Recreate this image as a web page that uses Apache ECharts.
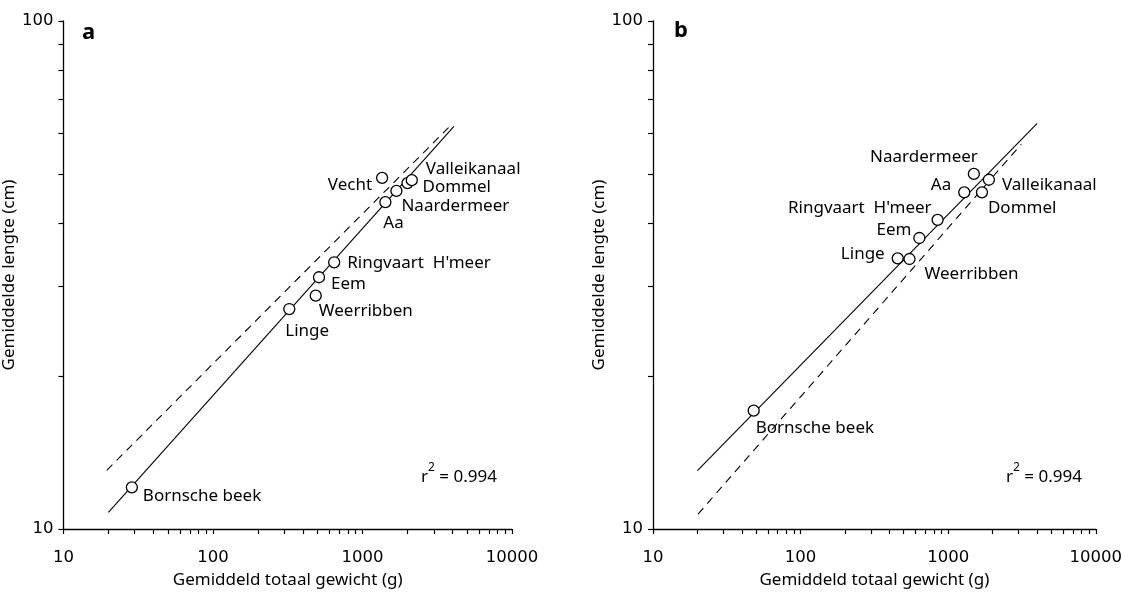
<!DOCTYPE html>
<html>
<head>
<meta charset="utf-8">
<script src="https://cdn.jsdelivr.net/npm/echarts@6/dist/echarts.min.js"></script>
<style>
html, body { margin: 0; padding: 0; background: #fff; }
#main { width: 1125px; height: 594px; }
</style>
</head>
<body>
<div id="main"></div>
<script>
// panel a
var namesA = ['Bornsche beek', 'Linge', 'Weerribben', 'Eem', "Ringvaart  H'meer", 'Aa', 'Naardermeer', 'Dommel', 'Vecht', 'Valleikanaal'];
var weightA = [28.7, 324, 487, 512, 647, 1423, 1687, 2000, 1353, 2138];
var lengthA = [12.08, 27.1, 28.8, 31.3, 33.5, 44.0, 46.3, 47.97, 49.1, 48.6];
var solidA = [[20, 10.78], [4090, 62.0]];
var dashedA = [[19.5, 13.05], [3870, 62.2]];

// panel b
var namesB = ['Bornsche beek', 'Linge', 'Weerribben', 'Eem', "Ringvaart  H'meer", 'Aa', 'Dommel', 'Naardermeer', 'Valleikanaal'];
var weightB = [48.1, 455, 547, 638, 848, 1285, 1694, 1493, 1888];
var lengthB = [17.1, 34.1, 34.0, 37.4, 40.6, 46.0, 46.0, 50.0, 48.7];
var solidB = [[20, 13.03], [4010, 62.9]];
var dashedB = [[20.2, 10.7], [3130, 57.2]];

var r2Value = '0.994';
var xLabels = [10, 100, 1000, 10000];
var yLabels = [10, 100];
var xTicks = [10, 20, 30, 40, 50, 60, 70, 80, 90, 100, 200, 300, 400, 500, 600, 700, 800, 900,
  1000, 2000, 3000, 4000, 5000, 6000, 7000, 8000, 9000, 10000];
var yTicks = [10, 20, 30, 40, 50, 60, 70, 80, 90, 100];

// label placement: [align, dx, dy] from the circle centre
var placeA = [['left', 11, 9], ['left', -4, 22], ['left', 3, 16], ['left', 12, 7], ['left', 13, 1],
  ['left', -2, 21], ['left', 5, 15], ['left', 15, 4], ['right', -10, 7], ['left', 14, -11]];
var placeB = [['left', 2, 18], ['right', -13, -4], ['left', 15, 15], ['right', -8, -8], ['right', -6, -12],
  ['right', -13, -7], ['left', 6, 16], ['right', 4, -17], ['left', 13, 5]];

var FONT = '"Noto Sans", "Open Sans", sans-serif';
var NUMFONT = '"DejaVu Sans", sans-serif';
var FS = 17;
var myChart = echarts.init(document.getElementById('main'));

function points(xs, ys, names, place) {
  return xs.map(function (x, i) {
    return {
      name: names[i],
      value: [x, ys[i]],
      label: {
        show: true,
        position: 'inside',
        formatter: '{b}',
        align: place[i][0],
        verticalAlign: 'middle',
        offset: [place[i][1], place[i][2]],
        color: '#000',
        fontSize: FS,
        fontFamily: FONT
      }
    };
  });
}

function xAxisOf(idx) {
  return {
    type: 'log', logBase: 10, gridIndex: idx, min: 10, max: 10000,
    name: 'Gemiddeld totaal gewicht (g)', nameLocation: 'middle', nameGap: 43,
    nameTextStyle: { color: '#000', fontSize: FS, fontFamily: FONT },
    axisLine: { lineStyle: { color: '#000', width: 1.3 } },
    axisTick: { show: true, length: 5, inside: false, customValues: xTicks, lineStyle: { color: '#000', width: 1.2 } },
    axisLabel: {
      customValues: xLabels, margin: 20, color: '#000', fontSize: 16.5, fontFamily: NUMFONT,
      formatter: function (v) { return String(Math.round(v)); }
    },
    splitLine: { show: false }
  };
}

function yAxisOf(idx) {
  return {
    type: 'log', logBase: 10, gridIndex: idx, min: 10, max: 100,
    name: 'Gemiddelde lengte (cm)', nameLocation: 'middle', nameGap: 32,
    nameTextStyle: { color: '#000', fontSize: FS, fontFamily: FONT },
    axisLine: { lineStyle: { color: '#000', width: 1.3 } },
    axisTick: { show: true, length: 5, inside: false, customValues: yTicks, lineStyle: { color: '#000', width: 1.2 } },
    axisLabel: {
      customValues: yLabels, margin: 10, color: '#000', fontSize: 16.5, fontFamily: NUMFONT,
      formatter: function (v) { return String(Math.round(v)); }
    },
    splitLine: { show: false }
  };
}

function fit(data, idx, type) {
  return {
    type: 'line', xAxisIndex: idx, yAxisIndex: idx, data: data,
    showSymbol: false, symbol: 'none', silent: true,
    lineStyle: { color: '#000', width: 1.1, type: type === 'dashed' ? [8, 6] : 'solid' },
    z: 2
  };
}

function scatter(xs, ys, names, place, idx) {
  return {
    type: 'scatter', xAxisIndex: idx, yAxisIndex: idx,
    data: points(xs, ys, names, place),
    symbol: 'circle', symbolSize: 11,
    itemStyle: { color: '#fff', borderColor: '#000', borderWidth: 1.3, opacity: 1 },
    z: 3
  };
}

function r2(left) {
  return {
    type: 'text', left: left, top: 462,
    style: {
      text: '{a|r}{s|2}{a| = ' + r2Value + '}',
      rich: {
        a: { fontSize: FS, fontFamily: FONT, fill: '#000', lineHeight: 24, verticalAlign: 'bottom' },
        s: { fontSize: 12, fontFamily: FONT, fill: '#000', lineHeight: 24, verticalAlign: 'top' }
      }
    }
  };
}

option = {
  animation: false,
  backgroundColor: '#fff',
  grid: [
    { left: 63, top: 21, width: 449, height: 511 },
    { left: 653, top: 21, width: 449, height: 511 }
  ],
  xAxis: [xAxisOf(0), xAxisOf(1)],
  yAxis: [yAxisOf(0), yAxisOf(1)],
  graphic: [
    { type: 'text', left: 82, top: 22, style: { text: 'a', font: 'bold 22px ' + FONT, fill: '#000' } },
    { type: 'text', left: 674, top: 20, style: { text: 'b', font: 'bold 22px ' + FONT, fill: '#000' } },
    r2(421),
    r2(1006)
  ],
  series: [
    fit(solidA, 0, 'solid'),
    fit(dashedA, 0, 'dashed'),
    scatter(weightA, lengthA, namesA, placeA, 0),
    fit(solidB, 1, 'solid'),
    fit(dashedB, 1, 'dashed'),
    scatter(weightB, lengthB, namesB, placeB, 1)
  ]
};
myChart.setOption(option);
</script>
</body>
</html>
